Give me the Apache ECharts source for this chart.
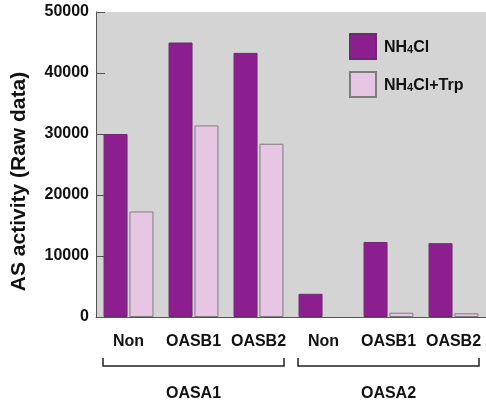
<!DOCTYPE html>
<html><head><meta charset="utf-8">
<script src="https://cdn.jsdelivr.net/npm/echarts@6/dist/echarts.min.js"></script>
<style>html,body{margin:0;padding:0;background:#fff;overflow:hidden}#c{width:486px;height:403px}</style>
</head><body><div id="c"></div>
<script>
const categories = ['Non','OASB1','OASB2','Non','OASB1','OASB2'];
const groupNames = ['OASA1','OASA2'];
const groupRanges = [[0,2],[3,5]];
const nh4cl = [30000, 45000, 43300, 3800, 12300, 12100];
const nh4clTrp = [17300, 31400, 28400, 0, 700, 600];
const yTicks = [0, 10000, 20000, 30000, 40000, 50000];

const FONT = '"Liberation Sans", Arial, sans-serif';
const chart = echarts.init(document.getElementById('c'), null, {renderer:'canvas'});
const rich = {sub:{fontSize:11, fontWeight:'bold', fontFamily:FONT, color:'#111', verticalAlign:'bottom', padding:[5,0,0,0]}, n:{fontSize:16, fontWeight:'bold', fontFamily:FONT, color:'#111'}};
chart.setOption({
  animation:false,
  grid:{left:96, right:-4, top:12, bottom:86, show:true, backgroundColor:'#d4d4d4', borderWidth:0},
  legend:{orient:'vertical', left:344, top:28, itemWidth:26, itemHeight:25, itemGap:11,
    icon:'rect',
    textStyle:{fontSize:16, fontWeight:'bold', fontFamily:FONT, color:'#111', rich:rich, padding:[2,0,0,3]},
    formatter:function(n){ return n.replace(/^NH4Cl/, '{n|NH}{sub|4}{n|Cl}').replace(/\+Trp$/, '{n|+Trp}'); },
    data:['NH4Cl','NH4Cl+Trp']},
  xAxis:{type:'category', data:categories,
    axisLine:{lineStyle:{color:'#555', width:1}},
    axisTick:{inside:true, length:6, lineStyle:{color:'#555'}},
    axisLabel:{fontSize:16, fontWeight:'bold', fontFamily:FONT, color:'#111', margin:17, interval:0}},
  yAxis:{type:'value', min:0, max:50000, interval:10000,
    name:'AS activity (Raw data)', nameLocation:'middle', nameGap:66,
    nameTextStyle:{fontSize:21, fontWeight:'bold', fontFamily:FONT, color:'#111', padding:[0,34,0,0]},
    axisLine:{show:true, lineStyle:{color:'#555', width:1}},
    axisTick:{show:true, inside:true, length:9, lineStyle:{color:'#555'}},
    splitLine:{show:false},
    axisLabel:{fontSize:16, fontWeight:'bold', fontFamily:FONT, color:'#111', margin:7,
      formatter:function(v){ return yTicks.indexOf(v) >= 0 ? String(v) : ''; }}},
  series:[
    {name:'NH4Cl', type:'bar', data:nh4cl, barWidth:24, barGap:'8%',
      itemStyle:{color:'#8c1e8f', borderColor:'#6e2a70', borderWidth:1}},
    {name:'NH4Cl+Trp', type:'bar', data:nh4clTrp.map(function(v){ return v === 0 ? {value:0, itemStyle:{borderWidth:0}} : v; }), barWidth:24,
      itemStyle:{color:'#e6c6e2', borderColor:'#7d7d7d', borderWidth:1}}
  ]
});

function px(v){ const p = chart.convertToPixel({xAxisIndex:0}, v); return Array.isArray(p) ? p[0] : p; }
function py(v){ const p = chart.convertToPixel({yAxisIndex:0}, v); return Array.isArray(p) ? p[1] : p; }
// group brackets below the axis
const band = px(1) - px(0);
const y0 = py(0);
const lineY = y0 + 49, tickH = 8, inset = 7;
const elements = [];
groupRanges.forEach(function(r, i){
  const x1 = px(r[0]) - band/2 + inset;
  const x2 = px(r[1]) + band/2 - inset;
  elements.push({type:'polyline', shape:{points:[[x1,lineY-tickH],[x1,lineY],[x2,lineY],[x2,lineY-tickH]]},
    style:{stroke:'#222', lineWidth:1.5, fill:null}});
  elements.push({type:'text', x:(x1+x2)/2, y:lineY+28,
    style:{text:groupNames[i], fontSize:16, fontWeight:'bold', fontFamily:FONT, fill:'#111', align:'center', verticalAlign:'middle'}});
});
chart.setOption({graphic:elements});
</script></body></html>
